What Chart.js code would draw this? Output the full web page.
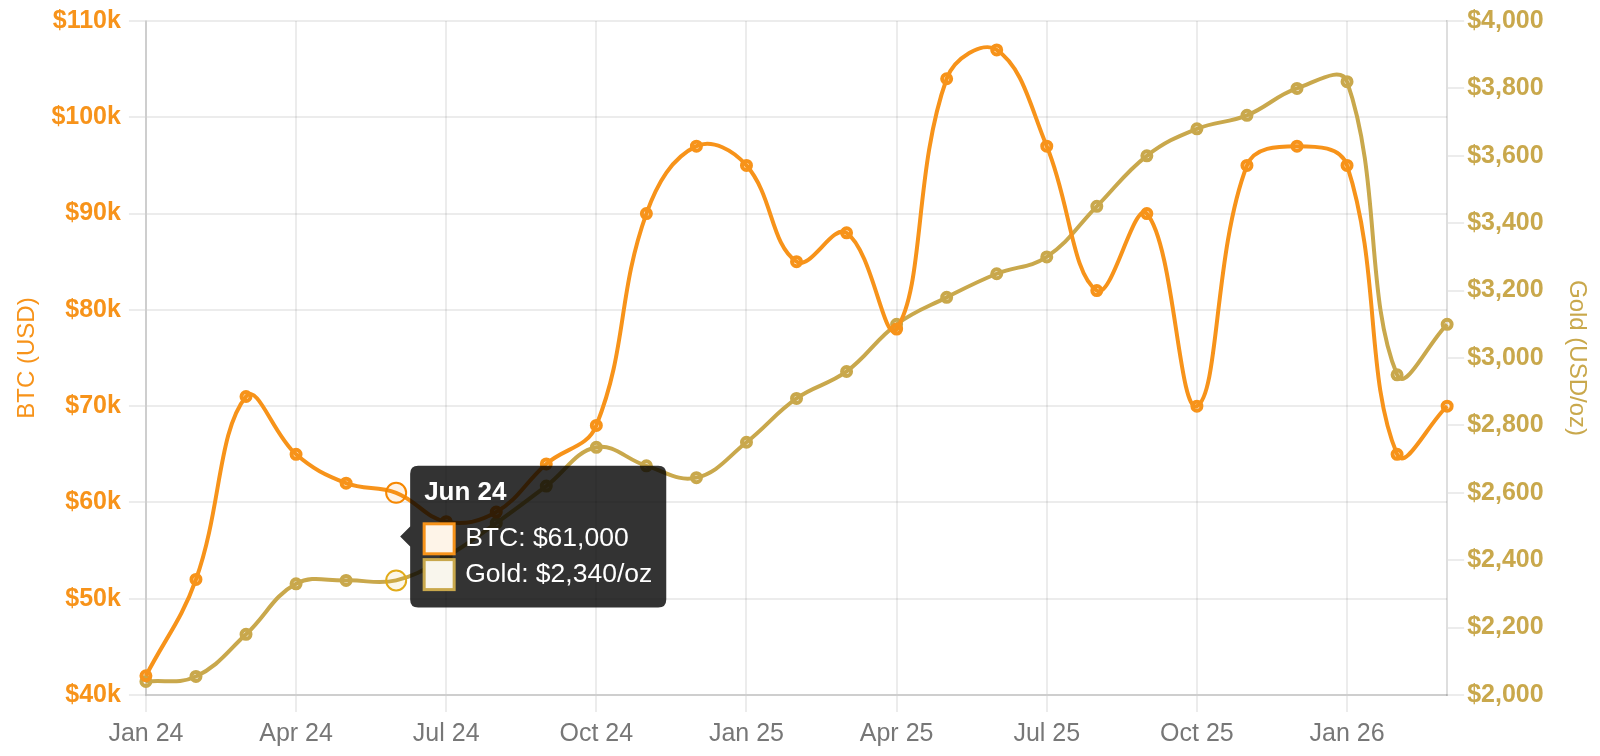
<!DOCTYPE html>
<html>
<head>
<meta charset="utf-8">
<script src="https://cdn.jsdelivr.net/npm/chart.js@4.4.1/dist/chart.umd.min.js"></script>
<style>
  html, body { margin: 0; padding: 0; background: #ffffff; overflow: hidden; }
  #wrap { width: 1600px; height: 756px; position: relative; }
  canvas { display: block; }
</style>
</head>
<body>
<div id="wrap"><canvas id="c"></canvas></div>
<script>
const months = ['Jan 24','Feb 24','Mar 24','Apr 24','May 24','Jun 24','Jul 24','Aug 24','Sep 24','Oct 24','Nov 24','Dec 24',
                'Jan 25','Feb 25','Mar 25','Apr 25','May 25','Jun 25','Jul 25','Aug 25','Sep 25','Oct 25','Nov 25','Dec 25',
                'Jan 26','Feb 26','Mar 26'];
const btcValues = [42000,52000,71000,65000,62000,61000,58000,59000,64000,68000,90000,97000,
                   95000,85000,88000,78000,104000,107000,97000,82000,90000,70000,95000,97000,
                   95000,65000,70000];
const goldValues = [2040,2055,2180,2330,2340,2340,2410,2510,2620,2735,2680,2645,
                    2750,2880,2960,3100,3180,3250,3300,3450,3600,3680,3720,3800,
                    3820,2950,3100];
const btcTicks = [40000,50000,60000,70000,80000,90000,100000,110000];
const goldTicks = [2000,2200,2400,2600,2800,3000,3200,3400,3600,3800,4000];
const activeIndex = 5;

const ORANGE = '#F7931A';
const GOLD = '#C9A84C';
const ORANGE_LIGHT = 'rgba(247,147,26,0.1)';
const GOLD_LIGHT = 'rgba(201,168,76,0.1)';
const FONT = "'Liberation Sans', Arial, Helvetica, sans-serif";
const GRID = 'rgba(0,0,0,0.075)';
const BORDER = 'rgba(0,0,0,0.13)';

function noEdgePadding(s) { s.paddingTop = 0; s.paddingBottom = 0; }

const chart = new Chart(document.getElementById('c'), {
  type: 'line',
  data: {
    labels: months,
    datasets: [
      {
        label: 'BTC',
        data: btcValues,
        yAxisID: 'yBtc',
        borderColor: ORANGE,
        backgroundColor: ORANGE_LIGHT,
        borderWidth: 4,
        tension: 0.4,
        pointRadius: 4.5,
        pointBorderWidth: 4,
        pointHoverRadius: 10,
        pointHoverBorderWidth: 2,
        fill: false
      },
      {
        label: 'Gold',
        data: goldValues,
        yAxisID: 'yGold',
        borderColor: GOLD,
        backgroundColor: GOLD_LIGHT,
        borderWidth: 4,
        tension: 0.4,
        pointRadius: 4.5,
        pointBorderWidth: 4,
        pointHoverRadius: 10,
        pointHoverBorderWidth: 2,
        fill: false
      }
    ]
  },
  options: {
    responsive: true,
    maintainAspectRatio: false,
    animation: false,
    events: [],
    layout: { padding: { top: 21, bottom: 0, left: 0, right: 0 } },
    interaction: { mode: 'index', intersect: false },
    plugins: {
      legend: { display: false },
      tooltip: {
        enabled: true,
        position: 'average',
        backgroundColor: 'rgba(0,0,0,0.8)',
        titleColor: '#ffffff',
        bodyColor: '#ffffff',
        titleFont: { family: FONT, size: 26, weight: 'bold' },
        bodyFont: { family: FONT, size: 26.5 },
        padding: { top: 12, bottom: 17, left: 14, right: 14 },
        titleMarginBottom: 14,
        bodySpacing: 4,
        caretSize: 10,
        caretPadding: 4,
        cornerRadius: 8,
        boxWidth: 30,
        boxHeight: 30,
        boxPadding: 9,
        callbacks: {
          label: function(ctx) {
            if (ctx.datasetIndex === 0) return 'BTC: $' + ctx.parsed.y.toLocaleString('en-US');
            return 'Gold: $' + ctx.parsed.y.toLocaleString('en-US') + '/oz';
          },
          labelColor: function(ctx) {
            return ctx.datasetIndex === 0
              ? { borderColor: ORANGE, backgroundColor: ORANGE_LIGHT, borderWidth: 3 }
              : { borderColor: GOLD, backgroundColor: GOLD_LIGHT, borderWidth: 3 };
          }
        }
      }
    },
    scales: {
      x: {
        grid: { color: GRID, lineWidth: 2, tickLength: 17 },
        border: { color: BORDER, width: 2 },
        ticks: {
          autoSkip: false,
          maxRotation: 0,
          padding: 7,
          color: '#777777',
          font: { family: FONT, size: 25 },
          callback: function(v, i) { return i % 3 === 0 ? months[i] : null; }
        }
      },
      yBtc: {
        position: 'left',
        min: 40000,
        max: 110000,
        afterBuildTicks: function(s) { s.ticks = btcTicks.map(v => ({ value: v })); },
        afterFit: noEdgePadding,
        grid: { color: GRID, lineWidth: 2, tickLength: 17 },
        border: { color: BORDER, width: 2 },
        ticks: {
          padding: 8,
          color: ORANGE,
          font: { family: FONT, size: 25, weight: 'bold' },
          callback: function(v) { return '$' + (v / 1000) + 'k'; }
        },
        title: {
          display: true,
          text: 'BTC (USD)',
          color: ORANGE,
          font: { family: FONT, size: 24 },
          padding: { top: 12.6, bottom: 2 }
        }
      },
      yGold: {
        position: 'right',
        min: 2000,
        max: 4000,
        afterBuildTicks: function(s) { s.ticks = goldTicks.map(v => ({ value: v })); },
        afterFit: noEdgePadding,
        grid: { color: GRID, lineWidth: 2, tickLength: 17, drawOnChartArea: false },
        border: { color: BORDER, width: 2 },
        ticks: {
          padding: 3,
          color: GOLD,
          font: { family: FONT, size: 25, weight: 'bold' },
          callback: function(v) { return '$' + v.toLocaleString('en-US'); }
        },
        title: {
          display: true,
          text: 'Gold (USD/oz)',
          color: GOLD,
          font: { family: FONT, size: 24 },
          padding: { top: 8.6, bottom: 16 }
        }
      }
    }
  }
});

const activeEls = [{ datasetIndex: 0, index: activeIndex }, { datasetIndex: 1, index: activeIndex }];
chart.setActiveElements(activeEls);
chart.tooltip.setActiveElements(activeEls, { x: 0, y: 0 });
chart.update();
</script>
</body>
</html>
